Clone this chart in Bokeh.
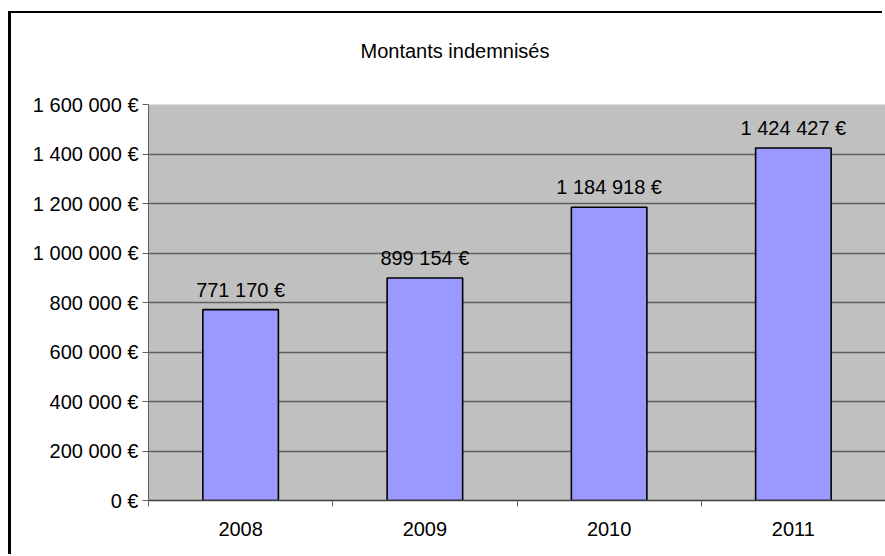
from bokeh.plotting import figure
from bokeh.models import ColumnDataSource, Range1d, FixedTicker, Title, LabelSet
from bokeh.core.properties import value
from bokeh.embed import file_html
from bokeh.resources import INLINE
import numpy as np

years = ["2008", "2009", "2010", "2011"]
amounts = [771170, 899154, 1184918, 1424427]
y_ticks = [0, 200000, 400000, 600000, 800000, 1000000, 1200000, 1400000, 1600000]
title_text = "Montants indemnisés"

def fmt_eur(v):
    return "{:,}".format(int(v)).replace(",", " ") + " €"

x_pos = list(np.arange(len(years)) + 0.5)
src = ColumnDataSource(dict(x=x_pos, top=amounts, label=[fmt_eur(a) for a in amounts]))

FONT = "Liberation Sans"
FS = "20px"

p = figure(width=874, height=543, output_backend="svg", toolbar_location=None,
           x_range=Range1d(0, len(years)), y_range=Range1d(0, 1600000),
           min_border_left=137, min_border_top=91, min_border_bottom=56, min_border_right=0)
p.styles = {"margin-top": "13px", "margin-left": "11px",
            "box-shadow": "-3px -2px 0px 0px black"}

p.background_fill_color = "#C0C0C0"
p.border_fill_color = "white"
p.outline_line_color = None

# trailing empty line lifts the title away from the plot area
t = Title(text=title_text + "\n", align="left", text_font=FONT,
          text_font_size=FS, text_font_style="normal", text_color="black",
          standoff=42, offset=212)
p.add_layout(t, "above")

p.vbar(x="x", top="top", width=0.41, bottom=0, source=src,
       fill_color="#9999FF", line_color="black", line_width=1.6)

labels = LabelSet(x="x", y="top", text="label", source=src, text_align="center",
                  text_baseline="bottom", y_offset=9, text_font=value(FONT),
                  text_font_size=value(FS), text_color=value("black"))
p.add_layout(labels)

# y axis
p.yaxis.ticker = FixedTicker(ticks=y_ticks)
p.yaxis.major_label_overrides = {v: fmt_eur(v) for v in y_ticks}
p.yaxis.major_label_text_font = FONT
p.yaxis.major_label_text_font_size = FS
p.yaxis.major_label_text_color = "black"
p.yaxis.major_label_standoff = 4
p.yaxis.major_tick_out = 6
p.yaxis.major_tick_in = 0
p.yaxis.minor_tick_line_color = None
p.yaxis.axis_line_color = "#606060"
p.yaxis.major_tick_line_color = "#606060"

# x axis: labels at centers, ticks at category boundaries
p.xaxis.ticker = FixedTicker(ticks=x_pos, minor_ticks=list(range(len(years) + 1)))
p.xaxis.major_label_overrides = {x: y for x, y in zip(x_pos, years)}
p.xaxis.major_label_text_font = FONT
p.xaxis.major_label_text_font_size = FS
p.xaxis.major_label_text_color = "black"
p.xaxis.major_tick_out = 0
p.xaxis.major_tick_in = 0
p.xaxis.major_label_standoff = 15
p.xaxis.minor_tick_out = 6
p.xaxis.minor_tick_in = 0
p.xaxis.minor_tick_line_color = "#606060"
p.xaxis.axis_line_color = "#404040"
p.xaxis.axis_line_width = 1.5

p.xgrid.grid_line_color = None
p.ygrid.grid_line_color = "#606060"
p.ygrid.grid_line_width = 1.3

open("out.html", "w").write(file_html(p, INLINE))
